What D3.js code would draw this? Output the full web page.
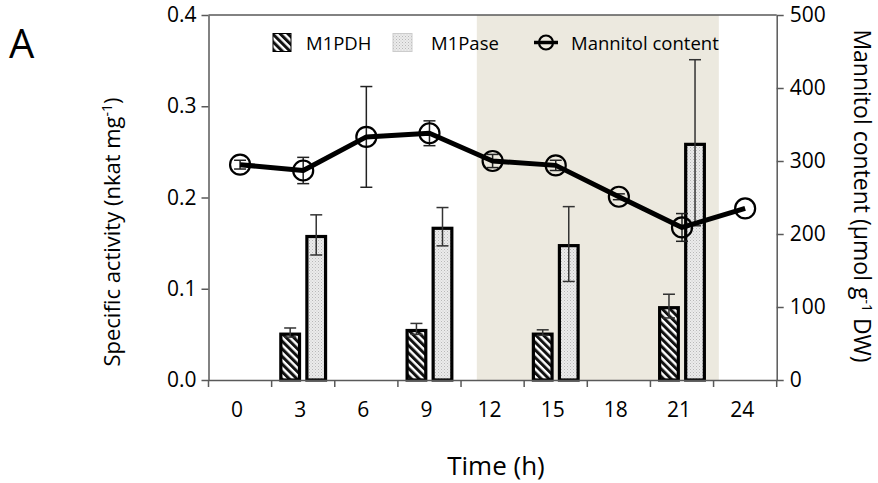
<!DOCTYPE html>
<html>
<head>
<meta charset="utf-8">
<script src="https://cdn.jsdelivr.net/npm/d3@7"></script>
<style>
  html, body { margin: 0; padding: 0; background: #fff; }
  svg { display: block; font-family: "Open Sans", sans-serif; }
</style>
</head>
<body>
<svg id="chart" width="878" height="483"></svg>
<script>
// Sampling times (h)
const times = [0, 3, 6, 9, 12, 15, 18, 21, 24];
// Specific activity (nkat mg-1), null where not measured
const m1pdh    = [null, 0.052, null, 0.056, null, 0.052, null, 0.081, null];
const m1pdhErr = [null, 0.005, null, 0.006, null, 0.003, null, 0.013, null];
const m1pase    = [null, 0.159, null, 0.168, null, 0.149, null, 0.260, null];
const m1paseErr = [null, 0.022, null, 0.021, null, 0.041, null, 0.091, null];
// Mannitol content (µmol g-1 DW)
const mannitol    = [295, 287, 333, 338, 300, 294, 251, 209, 235];
const mannitolErr = [6, 18, 69, 17, 9, 7, 4, 19, 0];
// Dark period (h)
const darkPeriod = [11.25, 22.75];
const leftTicks = [0.0, 0.1, 0.2, 0.3, 0.4];
const rightTicks = [0, 100, 200, 300, 400, 500];
const seriesNames = ["M1PDH", "M1Pase"];

const svg = d3.select("#chart");
const plot = { left: 208.5, right: 776.7, top: 15, bottom: 380 };
const axisColor = "#595959";

const x = d3.scaleBand().domain(times).range([plot.left, plot.right]).padding(0);
const bw = x.bandwidth();
const hourX = d3.scaleLinear().domain([0, 24]).range([x(0) + bw / 2, x(24) + bw / 2]);
const yL = d3.scaleLinear().domain([0, 0.4]).range([plot.bottom, plot.top]);
const yR = d3.scaleLinear().domain([0, 500]).range([plot.bottom, plot.top]);
const inner = d3.scaleBand().domain(seriesNames).range([7.6, bw - 7.6]).paddingInner(0.16);

// Fill patterns
const defs = svg.append("defs");
const hatch = defs.append("pattern").attr("id", "hatch")
  .attr("patternUnits", "userSpaceOnUse").attr("width", 5.4).attr("height", 5.4)
  .attr("patternTransform", "rotate(-45)");
hatch.append("rect").attr("width", 5.4).attr("height", 5.4).attr("fill", "#fff");
hatch.append("rect").attr("width", 3.0).attr("height", 5.4).attr("fill", "#111");

const dots = defs.append("pattern").attr("id", "dots")
  .attr("patternUnits", "userSpaceOnUse").attr("width", 3).attr("height", 3);
dots.append("rect").attr("width", 3).attr("height", 3).attr("fill", "#ebebeb");
dots.append("rect").attr("x", 0).attr("y", 0).attr("width", 1).attr("height", 1).attr("fill", "#b8b8b8");
dots.append("rect").attr("x", 1.5).attr("y", 1.5).attr("width", 1).attr("height", 1).attr("fill", "#c8c8c8");

const fills = { M1PDH: "url(#hatch)", M1Pase: "url(#dots)" };

// Dark-period shading
svg.append("rect")
  .attr("x", hourX(darkPeriod[0])).attr("y", plot.top)
  .attr("width", hourX(darkPeriod[1]) - hourX(darkPeriod[0]))
  .attr("height", plot.bottom - plot.top)
  .attr("fill", "#ece9df");

// Enzyme activity bars
const barData = [];
times.forEach((t, i) => {
  if (m1pdh[i] != null) barData.push({ t, s: "M1PDH", v: m1pdh[i], e: m1pdhErr[i] });
  if (m1pase[i] != null) barData.push({ t, s: "M1Pase", v: m1pase[i], e: m1paseErr[i] });
});

const barG = svg.append("g");
barG.selectAll("rect").data(barData).join("rect")
  .attr("x", d => x(d.t) + inner(d.s) + 1.6)
  .attr("y", d => yL(d.v) + 1.6)
  .attr("width", inner.bandwidth() - 3.2)
  .attr("height", d => yL(0) - yL(d.v) - 1.6)
  .attr("fill", d => fills[d.s])
  .attr("stroke", "#000").attr("stroke-width", 3.2);

const capW = 12;
const errG = svg.append("g").attr("stroke", "#333").attr("stroke-width", 1.5).attr("fill", "none");
barData.forEach(d => {
  const cx = x(d.t) + inner(d.s) + inner.bandwidth() / 2;
  const y1 = yL(d.v + d.e), y2 = yL(d.v - d.e);
  errG.append("line").attr("x1", cx).attr("x2", cx).attr("y1", y1).attr("y2", y2);
  errG.append("line").attr("x1", cx - capW / 2).attr("x2", cx + capW / 2).attr("y1", y1).attr("y2", y1);
  errG.append("line").attr("x1", cx - capW / 2).attr("x2", cx + capW / 2).attr("y1", y2).attr("y2", y2);
});

// Mannitol content line
const mData = times.map((t, i) => ({ t, v: mannitol[i], e: mannitolErr[i] }));
const mx = d => x(d.t) + bw / 2;

const mErrG = svg.append("g").attr("stroke", "#222").attr("stroke-width", 1.5);
mData.filter(d => d.e > 0).forEach(d => {
  const y1 = yR(d.v + d.e), y2 = yR(d.v - d.e);
  mErrG.append("line").attr("x1", mx(d)).attr("x2", mx(d)).attr("y1", y1).attr("y2", y2);
  mErrG.append("line").attr("x1", mx(d) - capW / 2).attr("x2", mx(d) + capW / 2).attr("y1", y1).attr("y2", y1);
  mErrG.append("line").attr("x1", mx(d) - capW / 2).attr("x2", mx(d) + capW / 2).attr("y1", y2).attr("y2", y2);
});

svg.append("path").datum(mData)
  .attr("d", d3.line().x(mx).y(d => yR(d.v)))
  .attr("fill", "none").attr("stroke", "#000").attr("stroke-width", 5)
  .attr("stroke-linejoin", "round");

svg.append("g").selectAll("circle").data(mData).join("circle")
  .attr("cx", mx).attr("cy", d => yR(d.v)).attr("r", 10)
  .attr("fill", "none").attr("stroke", "#000").attr("stroke-width", 2.2);

// Axes
const tickFont = 21;
const gL = svg.append("g").attr("transform", `translate(${plot.left},0)`)
  .call(d3.axisLeft(yL).tickValues(leftTicks).tickFormat(d3.format(".1f")).tickSize(7).tickSizeOuter(0).tickPadding(5));
const gR = svg.append("g").attr("transform", `translate(${plot.right},0)`)
  .call(d3.axisRight(yR).tickValues(rightTicks).tickFormat(d3.format("d")).tickSize(7).tickSizeOuter(0).tickPadding(6));
const gX = svg.append("g").attr("transform", `translate(0,${plot.bottom})`)
  .call(d3.axisBottom(x).tickSize(0).tickPadding(22));

// Tick marks on the time axis sit on the band boundaries
const boundaries = times.map(t => x(t)).concat([x(times[times.length - 1]) + bw]);
svg.append("g").selectAll("line").data(boundaries).join("line")
  .attr("x1", d => d).attr("x2", d => d)
  .attr("y1", plot.bottom).attr("y2", plot.bottom + 7)
  .attr("stroke", axisColor).attr("stroke-width", 1.5);

[gL, gR, gX].forEach(g => {
  g.select(".domain").attr("stroke", axisColor).attr("stroke-width", 1.5);
  g.selectAll(".tick line").attr("stroke", axisColor).attr("stroke-width", 1.5);
  g.selectAll(".tick text").attr("fill", "#000").style("font-size", tickFont + "px")
    .style("font-family", "'Open Sans', sans-serif");
});
gX.selectAll(".tick text").attr("dx", -3);

// Top border
svg.append("line").attr("x1", plot.left).attr("x2", plot.right)
  .attr("y1", plot.top).attr("y2", plot.top)
  .attr("stroke", axisColor).attr("stroke-width", 1.5);

// Axis titles
svg.append("text").attr("x", 496).attr("y", 475).attr("text-anchor", "middle")
  .style("font-size", "26px").text("Time (h)");

const lt = svg.append("text")
  .attr("transform", `translate(120,232) rotate(-90)`)
  .attr("text-anchor", "middle").style("font-size", "22px");
lt.append("tspan").text("Specific activity (nkat mg");
lt.append("tspan").attr("dy", -8).style("font-size", "14px").text("-1");
lt.append("tspan").attr("dy", 8).text(")");

const rt = svg.append("text")
  .attr("transform", `translate(854,196) rotate(90)`)
  .attr("text-anchor", "middle").style("font-size", "23px");
rt.append("tspan").text("Mannitol content (µmol g");
rt.append("tspan").attr("dy", -8).style("font-size", "14px").text("-1");
rt.append("tspan").attr("dy", 8).text(" DW)");

// Panel letter
svg.append("text").attr("x", 9).attr("y", 58).style("font-size", "40px").text("A");

// Legend
const lg = svg.append("g").style("font-size", "18.5px");
lg.append("rect").attr("x", 273).attr("y", 33.5).attr("width", 18).attr("height", 18)
  .attr("fill", fills.M1PDH).attr("stroke", "#000").attr("stroke-width", 1);
lg.append("text").attr("x", 306).attr("y", 49.5).text("M1PDH");
lg.append("rect").attr("x", 393).attr("y", 33.5).attr("width", 19).attr("height", 18)
  .attr("fill", fills.M1Pase).attr("stroke", "#ccc").attr("stroke-width", 1);
lg.append("text").attr("x", 431).attr("y", 49.5).text("M1Pase");
lg.append("line").attr("x1", 534).attr("x2", 558).attr("y1", 42.5).attr("y2", 42.5)
  .attr("stroke", "#000").attr("stroke-width", 3.5);
lg.append("circle").attr("cx", 546).attr("cy", 42.5).attr("r", 7)
  .attr("fill", "none").attr("stroke", "#000").attr("stroke-width", 2.2);
lg.append("text").attr("x", 571).attr("y", 49.5).text("Mannitol content");
</script>
</body>
</html>
